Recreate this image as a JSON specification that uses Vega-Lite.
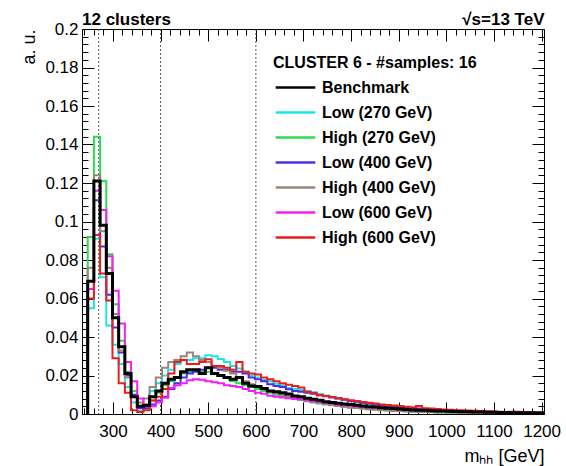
{
"$schema": "https://vega.github.io/schema/vega-lite/v6.json",
"width": 462, "height": 385,
"autosize": {"type": "none"},
"padding": {"left": 82, "top": 29, "right": 22, "bottom": 52},
"background": "white",
"config": {"view": {"stroke": "black", "strokeWidth": 1}, "font": "Liberation Sans"},
"title": {"text": "12 clusters", "anchor": "start", "frame": "group", "font": "Liberation Sans", "fontSize": 17, "fontWeight": "bold", "color": "black", "offset": 2, "dy": 20},
"datasets": {
"cuts": [{"m": 270}, {"m": 400}, {"m": 600}],
"h": [
{"s":"B","m":247,"v":0},{"s":"B","m":247,"v":0.069},{"s":"B","m":260,"v":0.121},{"s":"B","m":273,"v":0.098},{"s":"B","m":286,"v":0.073},{"s":"B","m":299,"v":0.05},{"s":"B","m":312,"v":0.035},{"s":"B","m":325,"v":0.021},{"s":"B","m":338,"v":0.009},{"s":"B","m":351,"v":0.004},{"s":"B","m":364,"v":0.0045},{"s":"B","m":377,"v":0.009},{"s":"B","m":390,"v":0.012},{"s":"B","m":403,"v":0.016},
{"s":"B","m":416,"v":0.018},{"s":"B","m":429,"v":0.019},{"s":"B","m":442,"v":0.022},{"s":"B","m":455,"v":0.023},{"s":"B","m":468,"v":0.023},{"s":"B","m":481,"v":0.021},{"s":"B","m":494,"v":0.024},{"s":"B","m":507,"v":0.021},{"s":"B","m":520,"v":0.02},{"s":"B","m":533,"v":0.019},{"s":"B","m":546,"v":0.018},{"s":"B","m":559,"v":0.019},{"s":"B","m":572,"v":0.016},
{"s":"B","m":585,"v":0.0145},{"s":"B","m":598,"v":0.0143},{"s":"B","m":611,"v":0.0133},{"s":"B","m":624,"v":0.012},{"s":"B","m":637,"v":0.0115},{"s":"B","m":650,"v":0.011},{"s":"B","m":663,"v":0.0104},{"s":"B","m":676,"v":0.0094},{"s":"B","m":689,"v":0.009},{"s":"B","m":702,"v":0.0082},{"s":"B","m":715,"v":0.0076},{"s":"B","m":728,"v":0.0072},{"s":"B","m":741,"v":0.0064},
{"s":"B","m":754,"v":0.006},{"s":"B","m":767,"v":0.0056},{"s":"B","m":780,"v":0.0052},{"s":"B","m":793,"v":0.0049},{"s":"B","m":806,"v":0.0045},{"s":"B","m":819,"v":0.0041},{"s":"B","m":832,"v":0.0038},{"s":"B","m":845,"v":0.0036},{"s":"B","m":858,"v":0.0032},{"s":"B","m":871,"v":0.003},{"s":"B","m":884,"v":0.0029},{"s":"B","m":897,"v":0.0026},{"s":"B","m":910,"v":0.0024},
{"s":"B","m":923,"v":0.0021},{"s":"B","m":936,"v":0.002},{"s":"B","m":949,"v":0.0019},{"s":"B","m":962,"v":0.0017},{"s":"B","m":975,"v":0.0016},{"s":"B","m":988,"v":0.0015},{"s":"B","m":1001,"v":0.0014},{"s":"B","m":1014,"v":0.0013},{"s":"B","m":1027,"v":0.0012},{"s":"B","m":1040,"v":0.0012},{"s":"B","m":1053,"v":0.0011},{"s":"B","m":1066,"v":0.001},{"s":"B","m":1079,"v":0.0009},
{"s":"B","m":1092,"v":0.0009},{"s":"B","m":1105,"v":0.0008},{"s":"B","m":1118,"v":0.0008},{"s":"B","m":1131,"v":0.0007},{"s":"B","m":1144,"v":0.0007},{"s":"B","m":1157,"v":0.0006},{"s":"B","m":1170,"v":0.0006},{"s":"B","m":1183,"v":0.0005},{"s":"B","m":1196,"v":0.0005},{"s":"B","m":1209,"v":0.0005},

{"s":"L270","m":247,"v":0},{"s":"L270","m":247,"v":0.055},{"s":"L270","m":260,"v":0.091},{"s":"L270","m":273,"v":0.071},{"s":"L270","m":286,"v":0.046},{"s":"L270","m":299,"v":0.036},{"s":"L270","m":312,"v":0.026},{"s":"L270","m":325,"v":0.014},{"s":"L270","m":338,"v":0.006},{"s":"L270","m":351,"v":0.0015},{"s":"L270","m":364,"v":0.005},{"s":"L270","m":377,"v":0.012},{"s":"L270","m":390,"v":0.016},{"s":"L270","m":403,"v":0.02},
{"s":"L270","m":416,"v":0.023},{"s":"L270","m":429,"v":0.026},{"s":"L270","m":442,"v":0.028},{"s":"L270","m":455,"v":0.028},{"s":"L270","m":468,"v":0.029},{"s":"L270","m":481,"v":0.029},{"s":"L270","m":494,"v":0.0305},{"s":"L270","m":507,"v":0.03},{"s":"L270","m":520,"v":0.0286},{"s":"L270","m":533,"v":0.027},{"s":"L270","m":546,"v":0.025},{"s":"L270","m":559,"v":0.0237},{"s":"L270","m":572,"v":0.022},
{"s":"L270","m":585,"v":0.02},{"s":"L270","m":598,"v":0.019},{"s":"L270","m":611,"v":0.0177},{"s":"L270","m":624,"v":0.017},{"s":"L270","m":637,"v":0.0157},{"s":"L270","m":650,"v":0.015},{"s":"L270","m":663,"v":0.0135},{"s":"L270","m":676,"v":0.013},{"s":"L270","m":689,"v":0.0125},{"s":"L270","m":702,"v":0.012},{"s":"L270","m":715,"v":0.0112},{"s":"L270","m":728,"v":0.0104},{"s":"L270","m":741,"v":0.0096},
{"s":"L270","m":754,"v":0.009},{"s":"L270","m":767,"v":0.0082},{"s":"L270","m":780,"v":0.0075},{"s":"L270","m":793,"v":0.0068},{"s":"L270","m":806,"v":0.0062},{"s":"L270","m":819,"v":0.0057},{"s":"L270","m":832,"v":0.0052},{"s":"L270","m":845,"v":0.0048},{"s":"L270","m":858,"v":0.0044},{"s":"L270","m":871,"v":0.004},{"s":"L270","m":884,"v":0.0036},{"s":"L270","m":897,"v":0.0033},{"s":"L270","m":910,"v":0.003},
{"s":"L270","m":923,"v":0.0028},{"s":"L270","m":936,"v":0.0025},{"s":"L270","m":949,"v":0.0023},{"s":"L270","m":962,"v":0.0021},{"s":"L270","m":975,"v":0.0019},{"s":"L270","m":988,"v":0.0017},{"s":"L270","m":1001,"v":0.0016},{"s":"L270","m":1014,"v":0.0015},{"s":"L270","m":1027,"v":0.0014},{"s":"L270","m":1040,"v":0.0013},{"s":"L270","m":1053,"v":0.0012},{"s":"L270","m":1066,"v":0.0011},{"s":"L270","m":1079,"v":0.001},
{"s":"L270","m":1092,"v":0.001},{"s":"L270","m":1105,"v":0.0009},{"s":"L270","m":1118,"v":0.0008},{"s":"L270","m":1131,"v":0.0008},{"s":"L270","m":1144,"v":0.0007},{"s":"L270","m":1157,"v":0.0007},{"s":"L270","m":1170,"v":0.0006},{"s":"L270","m":1183,"v":0.0006},{"s":"L270","m":1196,"v":0.0005},{"s":"L270","m":1209,"v":0.0005},

{"s":"H270","m":247,"v":0},{"s":"H270","m":247,"v":0.092},{"s":"H270","m":260,"v":0.144},{"s":"H270","m":273,"v":0.121},{"s":"H270","m":286,"v":0.083},{"s":"H270","m":299,"v":0.057},{"s":"H270","m":312,"v":0.038},{"s":"H270","m":325,"v":0.022},{"s":"H270","m":338,"v":0.012},{"s":"H270","m":351,"v":0.004},{"s":"H270","m":364,"v":0.003},{"s":"H270","m":377,"v":0.007},{"s":"H270","m":390,"v":0.011},{"s":"H270","m":403,"v":0.015},
{"s":"H270","m":416,"v":0.017},{"s":"H270","m":429,"v":0.019},{"s":"H270","m":442,"v":0.021},{"s":"H270","m":455,"v":0.022},{"s":"H270","m":468,"v":0.023},{"s":"H270","m":481,"v":0.022},{"s":"H270","m":494,"v":0.022},{"s":"H270","m":507,"v":0.021},{"s":"H270","m":520,"v":0.02},{"s":"H270","m":533,"v":0.019},{"s":"H270","m":546,"v":0.017},{"s":"H270","m":559,"v":0.016},{"s":"H270","m":572,"v":0.015},
{"s":"H270","m":585,"v":0.014},{"s":"H270","m":598,"v":0.013},{"s":"H270","m":611,"v":0.012},{"s":"H270","m":624,"v":0.011},{"s":"H270","m":637,"v":0.01},{"s":"H270","m":650,"v":0.0093},{"s":"H270","m":663,"v":0.0086},{"s":"H270","m":676,"v":0.008},{"s":"H270","m":689,"v":0.0073},{"s":"H270","m":702,"v":0.0066},{"s":"H270","m":715,"v":0.006},{"s":"H270","m":728,"v":0.0055},{"s":"H270","m":741,"v":0.005},
{"s":"H270","m":754,"v":0.0046},{"s":"H270","m":767,"v":0.0042},{"s":"H270","m":780,"v":0.0038},{"s":"H270","m":793,"v":0.0034},{"s":"H270","m":806,"v":0.0031},{"s":"H270","m":819,"v":0.0028},{"s":"H270","m":832,"v":0.0025},{"s":"H270","m":845,"v":0.0023},{"s":"H270","m":858,"v":0.0021},{"s":"H270","m":871,"v":0.0019},{"s":"H270","m":884,"v":0.0017},{"s":"H270","m":897,"v":0.0015},{"s":"H270","m":910,"v":0.0014},
{"s":"H270","m":923,"v":0.0013},{"s":"H270","m":936,"v":0.0012},{"s":"H270","m":949,"v":0.0011},{"s":"H270","m":962,"v":0.001},{"s":"H270","m":975,"v":0.0009},{"s":"H270","m":988,"v":0.0008},{"s":"H270","m":1001,"v":0.0007},{"s":"H270","m":1014,"v":0.0007},{"s":"H270","m":1027,"v":0.0006},{"s":"H270","m":1040,"v":0.0006},{"s":"H270","m":1053,"v":0.0005},{"s":"H270","m":1066,"v":0.0005},{"s":"H270","m":1079,"v":0.0004},
{"s":"H270","m":1092,"v":0.0004},{"s":"H270","m":1105,"v":0.0003},{"s":"H270","m":1118,"v":0.0003},{"s":"H270","m":1131,"v":0.0003},{"s":"H270","m":1144,"v":0.0003},{"s":"H270","m":1157,"v":0.0002},{"s":"H270","m":1170,"v":0.0002},{"s":"H270","m":1183,"v":0.0002},{"s":"H270","m":1196,"v":0.0002},{"s":"H270","m":1209,"v":0.0002},

{"s":"L400","m":247,"v":0},{"s":"L400","m":247,"v":0.065},{"s":"L400","m":260,"v":0.111},{"s":"L400","m":273,"v":0.087},{"s":"L400","m":286,"v":0.062},{"s":"L400","m":299,"v":0.045},{"s":"L400","m":312,"v":0.032},{"s":"L400","m":325,"v":0.02},{"s":"L400","m":338,"v":0.01},{"s":"L400","m":351,"v":0.003},{"s":"L400","m":364,"v":0.003},{"s":"L400","m":377,"v":0.005},{"s":"L400","m":390,"v":0.007},{"s":"L400","m":403,"v":0.009},
{"s":"L400","m":416,"v":0.013},{"s":"L400","m":429,"v":0.016},{"s":"L400","m":442,"v":0.019},{"s":"L400","m":455,"v":0.021},{"s":"L400","m":468,"v":0.022},{"s":"L400","m":481,"v":0.023},{"s":"L400","m":494,"v":0.024},{"s":"L400","m":507,"v":0.024},{"s":"L400","m":520,"v":0.023},{"s":"L400","m":533,"v":0.023},{"s":"L400","m":546,"v":0.022},{"s":"L400","m":559,"v":0.022},{"s":"L400","m":572,"v":0.021},
{"s":"L400","m":585,"v":0.019},{"s":"L400","m":598,"v":0.018},{"s":"L400","m":611,"v":0.017},{"s":"L400","m":624,"v":0.0155},{"s":"L400","m":637,"v":0.0145},{"s":"L400","m":650,"v":0.014},{"s":"L400","m":663,"v":0.0128},{"s":"L400","m":676,"v":0.012},{"s":"L400","m":689,"v":0.0115},{"s":"L400","m":702,"v":0.011},{"s":"L400","m":715,"v":0.0105},{"s":"L400","m":728,"v":0.0098},{"s":"L400","m":741,"v":0.0092},
{"s":"L400","m":754,"v":0.0086},{"s":"L400","m":767,"v":0.008},{"s":"L400","m":780,"v":0.0074},{"s":"L400","m":793,"v":0.0068},{"s":"L400","m":806,"v":0.0063},{"s":"L400","m":819,"v":0.0058},{"s":"L400","m":832,"v":0.0054},{"s":"L400","m":845,"v":0.005},{"s":"L400","m":858,"v":0.0046},{"s":"L400","m":871,"v":0.0042},{"s":"L400","m":884,"v":0.0039},{"s":"L400","m":897,"v":0.0036},{"s":"L400","m":910,"v":0.0033},
{"s":"L400","m":923,"v":0.003},{"s":"L400","m":936,"v":0.0028},{"s":"L400","m":949,"v":0.0025},{"s":"L400","m":962,"v":0.0023},{"s":"L400","m":975,"v":0.0021},{"s":"L400","m":988,"v":0.002},{"s":"L400","m":1001,"v":0.0018},{"s":"L400","m":1014,"v":0.0017},{"s":"L400","m":1027,"v":0.0016},{"s":"L400","m":1040,"v":0.0015},{"s":"L400","m":1053,"v":0.0014},{"s":"L400","m":1066,"v":0.0013},{"s":"L400","m":1079,"v":0.0012},
{"s":"L400","m":1092,"v":0.0012},{"s":"L400","m":1105,"v":0.0011},{"s":"L400","m":1118,"v":0.001},{"s":"L400","m":1131,"v":0.0012},{"s":"L400","m":1144,"v":0.001},{"s":"L400","m":1157,"v":0.0009},{"s":"L400","m":1170,"v":0.0008},{"s":"L400","m":1183,"v":0.0008},{"s":"L400","m":1196,"v":0.0007},{"s":"L400","m":1209,"v":0.0007},

{"s":"H400","m":247,"v":0},{"s":"H400","m":247,"v":0.076},{"s":"H400","m":260,"v":0.124},{"s":"H400","m":273,"v":0.095},{"s":"H400","m":286,"v":0.076},{"s":"H400","m":299,"v":0.052},{"s":"H400","m":312,"v":0.033},{"s":"H400","m":325,"v":0.019},{"s":"H400","m":338,"v":0.009},{"s":"H400","m":351,"v":0.006},{"s":"H400","m":364,"v":0.008},{"s":"H400","m":377,"v":0.014},{"s":"H400","m":390,"v":0.019},{"s":"H400","m":403,"v":0.024},
{"s":"H400","m":416,"v":0.027},{"s":"H400","m":429,"v":0.028},{"s":"H400","m":442,"v":0.03},{"s":"H400","m":455,"v":0.032},{"s":"H400","m":468,"v":0.03},{"s":"H400","m":481,"v":0.028},{"s":"H400","m":494,"v":0.027},{"s":"H400","m":507,"v":0.025},{"s":"H400","m":520,"v":0.024},{"s":"H400","m":533,"v":0.0225},{"s":"H400","m":546,"v":0.021},{"s":"H400","m":559,"v":0.019},{"s":"H400","m":572,"v":0.017},
{"s":"H400","m":585,"v":0.0155},{"s":"H400","m":598,"v":0.0142},{"s":"H400","m":611,"v":0.013},{"s":"H400","m":624,"v":0.012},{"s":"H400","m":637,"v":0.011},{"s":"H400","m":650,"v":0.01},{"s":"H400","m":663,"v":0.0092},{"s":"H400","m":676,"v":0.0085},{"s":"H400","m":689,"v":0.0078},{"s":"H400","m":702,"v":0.007},{"s":"H400","m":715,"v":0.0064},{"s":"H400","m":728,"v":0.0058},{"s":"H400","m":741,"v":0.0052},
{"s":"H400","m":754,"v":0.0047},{"s":"H400","m":767,"v":0.0042},{"s":"H400","m":780,"v":0.0038},{"s":"H400","m":793,"v":0.0034},{"s":"H400","m":806,"v":0.0031},{"s":"H400","m":819,"v":0.0028},{"s":"H400","m":832,"v":0.0025},{"s":"H400","m":845,"v":0.0022},{"s":"H400","m":858,"v":0.002},{"s":"H400","m":871,"v":0.0018},{"s":"H400","m":884,"v":0.0016},{"s":"H400","m":897,"v":0.0015},{"s":"H400","m":910,"v":0.0013},
{"s":"H400","m":923,"v":0.0012},{"s":"H400","m":936,"v":0.0011},{"s":"H400","m":949,"v":0.001},{"s":"H400","m":962,"v":0.0009},{"s":"H400","m":975,"v":0.0008},{"s":"H400","m":988,"v":0.0008},{"s":"H400","m":1001,"v":0.0007},{"s":"H400","m":1014,"v":0.0006},{"s":"H400","m":1027,"v":0.0006},{"s":"H400","m":1040,"v":0.0005},{"s":"H400","m":1053,"v":0.0005},{"s":"H400","m":1066,"v":0.0004},{"s":"H400","m":1079,"v":0.0004},
{"s":"H400","m":1092,"v":0.0004},{"s":"H400","m":1105,"v":0.0003},{"s":"H400","m":1118,"v":0.0003},{"s":"H400","m":1131,"v":0.0003},{"s":"H400","m":1144,"v":0.0003},{"s":"H400","m":1157,"v":0.0002},{"s":"H400","m":1170,"v":0.0002},{"s":"H400","m":1183,"v":0.0002},{"s":"H400","m":1196,"v":0.0002},{"s":"H400","m":1209,"v":0.0002},

{"s":"L600","m":247,"v":0},{"s":"L600","m":247,"v":0.065},{"s":"L600","m":260,"v":0.116},{"s":"L600","m":273,"v":0.106},{"s":"L600","m":286,"v":0.082},{"s":"L600","m":299,"v":0.064},{"s":"L600","m":312,"v":0.047},{"s":"L600","m":325,"v":0.027},{"s":"L600","m":338,"v":0.017},{"s":"L600","m":351,"v":0.008},{"s":"L600","m":364,"v":0.004},{"s":"L600","m":377,"v":0.004},{"s":"L600","m":390,"v":0.006},{"s":"L600","m":403,"v":0.0085},
{"s":"L600","m":416,"v":0.0135},{"s":"L600","m":429,"v":0.015},{"s":"L600","m":442,"v":0.016},{"s":"L600","m":455,"v":0.0175},{"s":"L600","m":468,"v":0.018},{"s":"L600","m":481,"v":0.0178},{"s":"L600","m":494,"v":0.017},{"s":"L600","m":507,"v":0.0165},{"s":"L600","m":520,"v":0.016},{"s":"L600","m":533,"v":0.015},{"s":"L600","m":546,"v":0.0145},{"s":"L600","m":559,"v":0.014},{"s":"L600","m":572,"v":0.013},
{"s":"L600","m":585,"v":0.012},{"s":"L600","m":598,"v":0.011},{"s":"L600","m":611,"v":0.0105},{"s":"L600","m":624,"v":0.0095},{"s":"L600","m":637,"v":0.009},{"s":"L600","m":650,"v":0.0086},{"s":"L600","m":663,"v":0.0082},{"s":"L600","m":676,"v":0.0078},{"s":"L600","m":689,"v":0.0075},{"s":"L600","m":702,"v":0.007},{"s":"L600","m":715,"v":0.0066},{"s":"L600","m":728,"v":0.0062},{"s":"L600","m":741,"v":0.0058},
{"s":"L600","m":754,"v":0.0054},{"s":"L600","m":767,"v":0.005},{"s":"L600","m":780,"v":0.0046},{"s":"L600","m":793,"v":0.0043},{"s":"L600","m":806,"v":0.004},{"s":"L600","m":819,"v":0.0037},{"s":"L600","m":832,"v":0.0034},{"s":"L600","m":845,"v":0.0032},{"s":"L600","m":858,"v":0.003},{"s":"L600","m":871,"v":0.0028},{"s":"L600","m":884,"v":0.0026},{"s":"L600","m":897,"v":0.0024},{"s":"L600","m":910,"v":0.0022},
{"s":"L600","m":923,"v":0.002},{"s":"L600","m":936,"v":0.0019},{"s":"L600","m":949,"v":0.0018},{"s":"L600","m":962,"v":0.0016},{"s":"L600","m":975,"v":0.0015},{"s":"L600","m":988,"v":0.0014},{"s":"L600","m":1001,"v":0.0013},{"s":"L600","m":1014,"v":0.0012},{"s":"L600","m":1027,"v":0.0012},{"s":"L600","m":1040,"v":0.0011},{"s":"L600","m":1053,"v":0.001},{"s":"L600","m":1066,"v":0.001},{"s":"L600","m":1079,"v":0.0009},
{"s":"L600","m":1092,"v":0.0009},{"s":"L600","m":1105,"v":0.0008},{"s":"L600","m":1118,"v":0.0009},{"s":"L600","m":1131,"v":0.0008},{"s":"L600","m":1144,"v":0.0012},{"s":"L600","m":1157,"v":0.0009},{"s":"L600","m":1170,"v":0.0008},{"s":"L600","m":1183,"v":0.0007},{"s":"L600","m":1196,"v":0.0007},{"s":"L600","m":1209,"v":0.0007},

{"s":"H600","m":247,"v":0},{"s":"H600","m":247,"v":0.06},{"s":"H600","m":260,"v":0.093},{"s":"H600","m":273,"v":0.073},{"s":"H600","m":286,"v":0.059},{"s":"H600","m":299,"v":0.029},{"s":"H600","m":312,"v":0.016},{"s":"H600","m":325,"v":0.011},{"s":"H600","m":338,"v":0.002},{"s":"H600","m":351,"v":0.001},{"s":"H600","m":364,"v":0.002},{"s":"H600","m":377,"v":0.007},{"s":"H600","m":390,"v":0.009},{"s":"H600","m":403,"v":0.013},
{"s":"H600","m":416,"v":0.021},{"s":"H600","m":429,"v":0.027},{"s":"H600","m":442,"v":0.028},{"s":"H600","m":455,"v":0.026},{"s":"H600","m":468,"v":0.026},{"s":"H600","m":481,"v":0.027},{"s":"H600","m":494,"v":0.0285},{"s":"H600","m":507,"v":0.025},{"s":"H600","m":520,"v":0.025},{"s":"H600","m":533,"v":0.024},{"s":"H600","m":546,"v":0.023},{"s":"H600","m":559,"v":0.027},{"s":"H600","m":572,"v":0.022},
{"s":"H600","m":585,"v":0.021},{"s":"H600","m":598,"v":0.0205},{"s":"H600","m":611,"v":0.019},{"s":"H600","m":624,"v":0.018},{"s":"H600","m":637,"v":0.017},{"s":"H600","m":650,"v":0.016},{"s":"H600","m":663,"v":0.0152},{"s":"H600","m":676,"v":0.0145},{"s":"H600","m":689,"v":0.0138},{"s":"H600","m":702,"v":0.0115},{"s":"H600","m":715,"v":0.011},{"s":"H600","m":728,"v":0.0098},{"s":"H600","m":741,"v":0.0093},
{"s":"H600","m":754,"v":0.0088},{"s":"H600","m":767,"v":0.0082},{"s":"H600","m":780,"v":0.0076},{"s":"H600","m":793,"v":0.0072},{"s":"H600","m":806,"v":0.0068},{"s":"H600","m":819,"v":0.0062},{"s":"H600","m":832,"v":0.0058},{"s":"H600","m":845,"v":0.0054},{"s":"H600","m":858,"v":0.005},{"s":"H600","m":871,"v":0.0047},{"s":"H600","m":884,"v":0.0044},{"s":"H600","m":897,"v":0.0041},{"s":"H600","m":910,"v":0.0038},
{"s":"H600","m":923,"v":0.0035},{"s":"H600","m":936,"v":0.0042},{"s":"H600","m":949,"v":0.003},{"s":"H600","m":962,"v":0.0028},{"s":"H600","m":975,"v":0.0026},{"s":"H600","m":988,"v":0.0024},{"s":"H600","m":1001,"v":0.0022},{"s":"H600","m":1014,"v":0.002},{"s":"H600","m":1027,"v":0.0019},{"s":"H600","m":1040,"v":0.0018},{"s":"H600","m":1053,"v":0.0017},{"s":"H600","m":1066,"v":0.0015},{"s":"H600","m":1079,"v":0.0014},
{"s":"H600","m":1092,"v":0.0013},{"s":"H600","m":1105,"v":0.0012},{"s":"H600","m":1118,"v":0.0011},{"s":"H600","m":1131,"v":0.001},{"s":"H600","m":1144,"v":0.001},{"s":"H600","m":1157,"v":0.0009},{"s":"H600","m":1170,"v":0.0009},{"s":"H600","m":1183,"v":0.0008},{"s":"H600","m":1196,"v":0.0008},{"s":"H600","m":1209,"v":0.0008}
]
},
"layer": [
{
"data": {"name": "cuts"},
"mark": {"type": "rule", "strokeDash": [2, 2], "color": "#555555", "strokeWidth": 1},
"encoding": {"x": {"field": "m", "type": "quantitative", "scale": {"domain": [235, 1205], "nice": false, "zero": false}, "axis": null}}
},
{
"data": {"name": "h"},
"transform": [{"filter": "datum.s != 'B'"}],
"mark": {"type": "line", "interpolate": "step-after", "strokeWidth": 2, "clip": true},
"encoding": {
"x": {"field": "m", "type": "quantitative", "scale": {"domain": [235, 1205], "nice": false, "zero": false},
"axis": {"orient": "bottom", "values": [240,260,280,300,320,340,360,380,400,420,440,460,480,500,520,540,560,580,600,620,640,660,680,700,720,740,760,780,800,820,840,860,880,900,920,940,960,980,1000,1020,1040,1060,1080,1100,1120,1140,1160,1180,1200],
"labelExpr": "datum.value % 100 == 0 ? format(datum.value, 'd') : ''",
"tickSize": {"condition": {"test": "datum.value % 100 == 0", "value": -12}, "value": -6},
"labelPadding": 21, "labelFontSize": 17, "labelFont": "Liberation Sans", "labelColor": "black", "labelFlush": false, "labelOverlap": false, "labelBound": false,
"tickColor": "black", "domainColor": "black", "grid": false,
"title": "mₕₕ [GeV]", "titleAnchor": "end", "titleFontSize": 18, "titleFontWeight": "normal", "titleFont": "Liberation Sans", "titleColor": "black", "titlePadding": 2}},
"y": {"field": "v", "type": "quantitative", "scale": {"domain": [0, 0.2], "nice": false, "zero": true},
"axis": {"orient": "left", "values": [0,0.004,0.008,0.012,0.016,0.02,0.024,0.028,0.032,0.036,0.04,0.044,0.048,0.052,0.056,0.06,0.064,0.068,0.072,0.076,0.08,0.084,0.088,0.092,0.096,0.1,0.104,0.108,0.112,0.116,0.12,0.124,0.128,0.132,0.136,0.14,0.144,0.148,0.152,0.156,0.16,0.164,0.168,0.172,0.176,0.18,0.184,0.188,0.192,0.196,0.2],
"labelExpr": "round(datum.value * 1000) % 20 == 0 ? format(datum.value, '~g') : ''",
"tickSize": {"condition": {"test": "round(datum.value * 1000) % 20 == 0", "value": -12}, "value": -6},
"labelPadding": 16, "labelFontSize": 17, "labelFont": "Liberation Sans", "labelColor": "black", "labelFlush": false, "labelOverlap": false, "labelBound": false,
"tickColor": "black", "domainColor": "black", "grid": false,
"title": "a. u.", "titleAnchor": "end", "titleFontSize": 18, "titleFontWeight": "normal", "titleFont": "Liberation Sans", "titleColor": "black", "titlePadding": 6}},
"color": {"field": "s", "type": "nominal",
"scale": {"domain": ["B", "L270", "H270", "L400", "H400", "L600", "H600"], "range": ["#000000", "#19e6e6", "#2bdc52", "#4b2fe6", "#9b857b", "#f41ff4", "#eb1d1d"]},
"legend": {"title": "CLUSTER 6 - #samples: 16", "orient": "none", "legendX": 191, "legendY": 26, "padding": 0,
"titleFont": "Liberation Sans", "titleFontSize": 16, "titleFontWeight": "bold", "titleColor": "black", "titlePadding": 4, "titleLimit": 400,
"labelFont": "Liberation Sans", "labelFontSize": 16, "labelFontWeight": "bold", "labelColor": "black", "labelLimit": 300,
"labelExpr": "datum.label == 'B' ? 'Benchmark' : datum.label == 'L270' ? 'Low (270 GeV)' : datum.label == 'H270' ? 'High (270 GeV)' : datum.label == 'L400' ? 'Low (400 GeV)' : datum.label == 'H400' ? 'High (400 GeV)' : datum.label == 'L600' ? 'Low (600 GeV)' : 'High (600 GeV)'",
"symbolType": "M-1.8,0H1.8", "symbolSize": 484, "symbolStrokeWidth": 2.5, "symbolOffset": 10, "labelOffset": 14, "rowPadding": 4}},
"order": {"value": null}
}
},
{
"data": {"name": "h"},
"transform": [{"filter": "datum.s == 'B'"}],
"mark": {"type": "line", "interpolate": "step-after", "strokeWidth": 3, "clip": true},
"encoding": {
"x": {"field": "m", "type": "quantitative", "scale": {"domain": [235, 1205], "nice": false, "zero": false},
"axis": {"orient": "top", "values": [240,260,280,300,320,340,360,380,400,420,440,460,480,500,520,540,560,580,600,620,640,660,680,700,720,740,760,780,800,820,840,860,880,900,920,940,960,980,1000,1020,1040,1060,1080,1100,1120,1140,1160,1180,1200],
"labels": false, "domain": false,
"tickSize": {"condition": {"test": "datum.value % 100 == 0", "value": -12}, "value": -6},
"tickColor": "black", "grid": false,
"title": "√s=13 TeV", "titleAnchor": "end", "titleFontSize": 17, "titleFontWeight": "bold", "titleFont": "Liberation Sans", "titleColor": "black", "titlePadding": 0}},
"y": {"field": "v", "type": "quantitative", "scale": {"domain": [0, 0.2], "nice": false, "zero": true},
"axis": {"orient": "right", "values": [0,0.004,0.008,0.012,0.016,0.02,0.024,0.028,0.032,0.036,0.04,0.044,0.048,0.052,0.056,0.06,0.064,0.068,0.072,0.076,0.08,0.084,0.088,0.092,0.096,0.1,0.104,0.108,0.112,0.116,0.12,0.124,0.128,0.132,0.136,0.14,0.144,0.148,0.152,0.156,0.16,0.164,0.168,0.172,0.176,0.18,0.184,0.188,0.192,0.196,0.2],
"labels": false, "domain": false,
"tickSize": {"condition": {"test": "round(datum.value * 1000) % 20 == 0", "value": -12}, "value": -6},
"tickColor": "black", "grid": false, "title": null}},
"color": {"field": "s", "type": "nominal"},
"order": {"value": null}
}
}
],
"resolve": {"axis": {"x": "independent", "y": "independent"}}
}
